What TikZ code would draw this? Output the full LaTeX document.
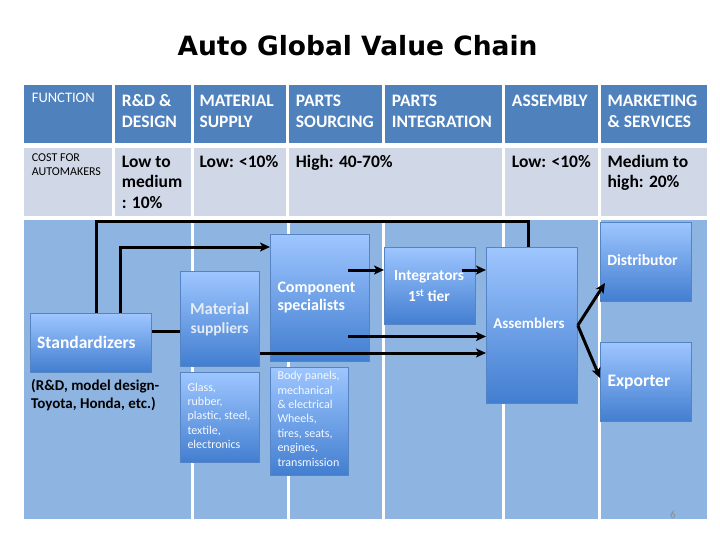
\documentclass[tikz,border=0pt]{standalone}
\usepackage{fontspec}
\setmainfont{Carlito}
\newfontfamily\titlefont{DejaVu Sans}
\usetikzlibrary{arrows.meta,calc}
\definecolor{hdrblue}{RGB}{79,129,189}
\definecolor{rowtwo}{RGB}{208,216,232}
\definecolor{bodyblue}{RGB}{142,180,225}
\definecolor{boxtop}{RGB}{158,198,255}
\definecolor{boxbot}{RGB}{66,126,208}
\definecolor{boxline}{RGB}{84,132,196}
\definecolor{matwhite}{RGB}{228,236,246}
\definecolor{pggray}{RGB}{140,140,140}
\newcommand\myfs[2]{\fontsize{#1}{#2}\selectfont}
\begin{document}
\begin{tikzpicture}[x=1pt,y=-1pt,
  box/.style={draw=boxline, line width=0.8pt, top color=boxtop, bottom color=boxbot, anchor=north west, inner sep=0pt},
  lbl/.style={inner sep=0pt, anchor=base west, align=left},
  hd/.style={lbl, text=white, font=\bfseries\myfs{17.5}{20.6}},
  cost/.style={lbl, text=black, font=\bfseries\myfs{17.5}{20.6}},
  bt/.style={text=white, inner sep=0pt},
  small/.style={lbl, text=white!90!boxtop, font=\myfs{12}{14.35}},
  conn/.style={line width=3pt, black},
  arr/.style={conn, -{Stealth[length=10pt,width=9pt,inset=2.5pt]}},
]
\useasboundingbox (0,0) rectangle (720,540);
\fill[white] (0,0) rectangle (720,540);

% header row
\foreach \a/\b in {24/111.5,114.5/190.5,193.5/286,289/381.5,384.5/501.5,504.5/597.5,600.5/707}
  \fill[hdrblue] (\a,85) rectangle (\b,143);
% cost row
\foreach \a/\b in {24/111.5,114.5/190.5,193.5/286,289/501.5,504.5/597.5,600.5/707}
  \fill[rowtwo] (\a,148) rectangle (\b,216.5);
% body row
\foreach \a/\b in {24/190.5,193.5/286.5,289.5/381.5,384.5/501.5,504.5/597.5,600.5/707}
  \fill[bodyblue] (\a,220) rectangle (\b,519);

% title
\node[font=\titlefont\bfseries\myfs{26.5}{30}, anchor=base, inner sep=0pt] (title) at (357.5,55.7) {Auto Global Value Chain};

% header texts (base anchor = last line)
\node[hd, font=\myfs{14.5}{17}] (fn) at (31.7,102.7) {FUNCTION};
\node[hd] (h1) at (121.7,127.3) {R\&D \&\\DESIGN};
\node[hd] (h2) at (199.3,127.3) {MATERIAL\\SUPPLY};
\node[hd] (h3) at (295.7,127.3) {PARTS\\SOURCING};
\node[hd] (h4) at (391.7,127.3) {PARTS\\INTEGRATION};
\node[hd] (h5) at (511.7,106.7) {ASSEMBLY};
\node[hd] (h6) at (607.3,127.3) {MARKETING\\\& SERVICES};

% cost texts
\node[lbl, font=\myfs{12}{14.3}] (cf) at (31.7,176) {COST FOR\\AUTOMAKERS};
\node[cost] (c1) at (121.7,208.5) {Low to\\medium\\: 10\%};
\node[cost] (c2) at (199.3,167.3) {Low: <10\%};
\node[cost] (c3) at (295.7,167.3) {High: 40-70\%};
\node[cost] (c4) at (511.7,167.3) {Low: <10\%};
\node[cost] (c5) at (607.3,187.9) {Medium to\\high: 20\%};

% boxes
\node[box, minimum width=121pt, minimum height=59pt] (std) at (30,313) {};
\node[box, minimum width=79pt, minimum height=95pt] (mat) at (180,271) {};
\node[box, minimum width=99pt, minimum height=127pt] (comp) at (270,234) {};
\node[box, minimum width=91pt, minimum height=77pt] (integ) at (384,247) {};
\node[box, minimum width=91pt, minimum height=156pt] (asm) at (486,247) {};
\node[box, minimum width=91pt, minimum height=79pt] (dist) at (600,222) {};
\node[box, minimum width=91pt, minimum height=79pt] (exp) at (600,342) {};
\node[box, minimum width=79pt, minimum height=90pt] (glass) at (180,372) {};
\node[box, minimum width=78pt, minimum height=108pt] (bodyp) at (270,367) {};

% connectors
\coordinate (kA) at (96,222);
\coordinate (kA2) at (528,222);
\coordinate (kB) at (120,247);
\coordinate (y1) at (0,331);
\coordinate (y2) at (0,353);
\coordinate (s1) at (348,270);
\coordinate (s2) at (348,336.5);
\coordinate (s3) at (462,270);
\coordinate (dtip) at (605,283);
\coordinate (etip) at (600,378);
\draw[conn] (std.north -| kA) -- (kA) -- (kA2) -- (kA2 |- asm.north);
\draw[arr] (std.north -| kB) -- (kB) -- (kB -| comp.west);
\draw[conn] (std.east |- y1) -- (mat.west |- y1);
\draw[arr] (mat.east |- y2) -- (asm.west |- y2);
\draw[arr] (s1) -- (s1 -| integ.west);
\draw[arr] (s2) -- (s2 -| asm.west);
\draw[arr] (s3) -- (s3 -| asm.west);
\draw[arr] (asm.east) -- (dtip);
\draw[arr] (asm.east) -- (etip);

% box texts
\node[bt, anchor=base west, font=\bfseries\myfs{17.5}{20}] (tstd) at (37,348.3) {Standardizers};
\node[lbl, font=\bfseries\myfs{15}{18}] (tstd2) at (31,408) {(R\&D, model design-\\Toyota, Honda, etc.)};
\node[bt, anchor=base, text=matwhite, font=\bfseries\myfs{16.7}{20}] (tmat1) at (219.6,314.3) {Material};
\node[bt, anchor=base, text=matwhite, font=\bfseries\myfs{15.5}{19}] (tmat2) at (219.6,333.3) {suppliers};
\node[bt, lbl, font=\bfseries\myfs{16}{18.3}] (tcomp) at (277.3,310.6) {Component\\specialists};
\node[bt, anchor=base, align=center, font=\bfseries\myfs{15.4}{21.7}] (tint) at (429,301.7) {Integrators\\1\textsuperscript{st} tier};
\node[bt, anchor=base, font=\bfseries\myfs{15}{18}] (tasm) at (529,328.3) {Assemblers};
\node[bt, anchor=base, font=\bfseries\myfs{15.6}{18}] (tdist) at (642.5,265.7) {Distributor};
\node[bt, anchor=base west, font=\bfseries\myfs{17.6}{20}] (texp) at (607.3,386.7) {Exporter};
\node[small] (tgl) at (187.3,448.6) {Glass,\\rubber,\\plastic, steel,\\textile,\\electronics};
\node[small] (tbp) at (277.3,466) {Body panels,\\mechanical\\\& electrical\\Wheels,\\tires, seats,\\engines,\\transmission};
\node[text=pggray, font=\myfs{11}{13}, inner sep=0pt] (pg) at (673,515) {6};
\end{tikzpicture}
\end{document}
